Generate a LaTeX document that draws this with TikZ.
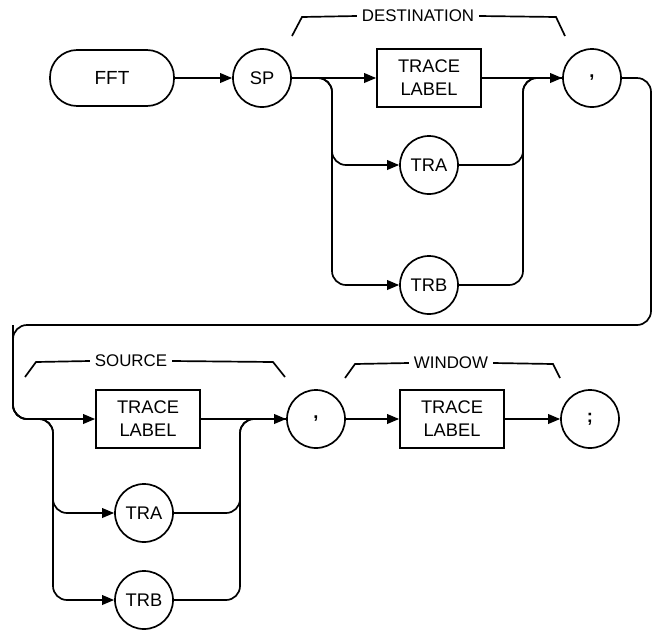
\documentclass[tikz,border=0pt]{standalone}
\usepackage{fontspec}
\setmainfont{Liberation Sans}
\usetikzlibrary{arrows.meta}

\begin{document}
\begin{tikzpicture}[x=0.025cm, y=-0.025cm, line width=1.2pt,
		arr/.style={-{Triangle[length=0.3cm, width=0.24cm]}},
		keyword/.style={draw, rectangle, rounded corners=0.68cm, minimum width=3.1cm, minimum height=1.4cm, font=\fontsize{13.5}{16}\selectfont},
		token/.style={draw, circle, minimum size=1.45cm, inner sep=0pt, font=\fontsize{13}{16}\selectfont},
		param/.style={draw, rectangle, minimum width=2.6cm, minimum height=1.45cm, align=center, font=\fontsize{13}{16.5}\selectfont},
		bracket/.style={inner sep=3pt, font=\fontsize{12}{14}\selectfont},
		bendline/.style={rounded corners=0.35cm}]
				\useasboundingbox (0,0) rectangle (658,639);

				% Command
				\node[keyword] (fft) at (112,78) {FFT};
				\node[token] (sp) at (262,78) {SP};
				\draw[arr] (fft) -- (sp);

				% Destination
				\node[param] (dlabel) at (429,78) {TRACE\\LABEL};
				\node[token] (dtra) at (429,165) {TRA};
				\node[token] (dtrb) at (429,285) {TRB};
				\node[token] (dcomma) at (592,78) {\textbf{,}};
				\coordinate (dsplit) at (332,78);
				\coordinate (dmerge) at (523,78);
				\draw[arr] (sp) -- (dlabel);
				\draw[arr, bendline] (sp) -- (dsplit) |- (dtra);
				\draw[arr, bendline] (sp) -- (dsplit) |- (dtrb);
				\draw[arr] (dlabel) -- (dcomma);
				\draw[bendline] (dtra) -| (dmerge) -- (dcomma);
				\draw[bendline] (dtrb) -| (dmerge) -- (dcomma);

				% Destination bracket
				\node[bracket] (dest) at (418,16) {DESTINATION};
				\draw (292,36) -- (302,17) -- (dest.west);
				\draw (dest.east) -- (556,17) -- (565,36);

				% Source
				\node[param] (slabel) at (148,419) {TRACE\\LABEL};
				\node[token] (stra) at (144,513) {TRA};
				\node[token] (strb) at (144,600) {TRB};
				\node[token] (scomma) at (316,419) {\textbf{,}};
				\coordinate (wrapr) at (651,325);
				\coordinate (wrapl) at (13,325);
				\coordinate (ssplit) at (53,419);
				\coordinate (smerge) at (240,419);
				\draw[arr, bendline] (dcomma) -| (wrapr) -- (wrapl) |- (slabel);
				\draw[arr, bendline] (wrapl) |- (ssplit) |- (stra);
				\draw[arr, bendline] (wrapl) |- (ssplit) |- (strb);
				\draw[arr] (slabel) -- (scomma);
				\draw[bendline] (stra) -| (smerge) -- (scomma);
				\draw[bendline] (strb) -| (smerge) -- (scomma);

				% Source bracket
				\node[bracket] (src) at (131,361) {SOURCE};
				\draw (25,377) -- (36,362) -- (src.west);
				\draw (src.east) -- (273,362) -- (285,377);

				% Window
				\node[param] (wlabel) at (452,419) {TRACE\\LABEL};
				\node[token] (semi) at (590,419) {\textbf{;}};
				\draw[arr] (scomma) -- (wlabel);
				\draw[arr] (wlabel) -- (semi);

				% Window bracket
				\node[bracket] (win) at (451,363) {WINDOW};
				\draw (345,378) -- (355,364) -- (win.west);
				\draw (win.east) -- (553,364) -- (560,378);
			\end{tikzpicture}
\end{document}
